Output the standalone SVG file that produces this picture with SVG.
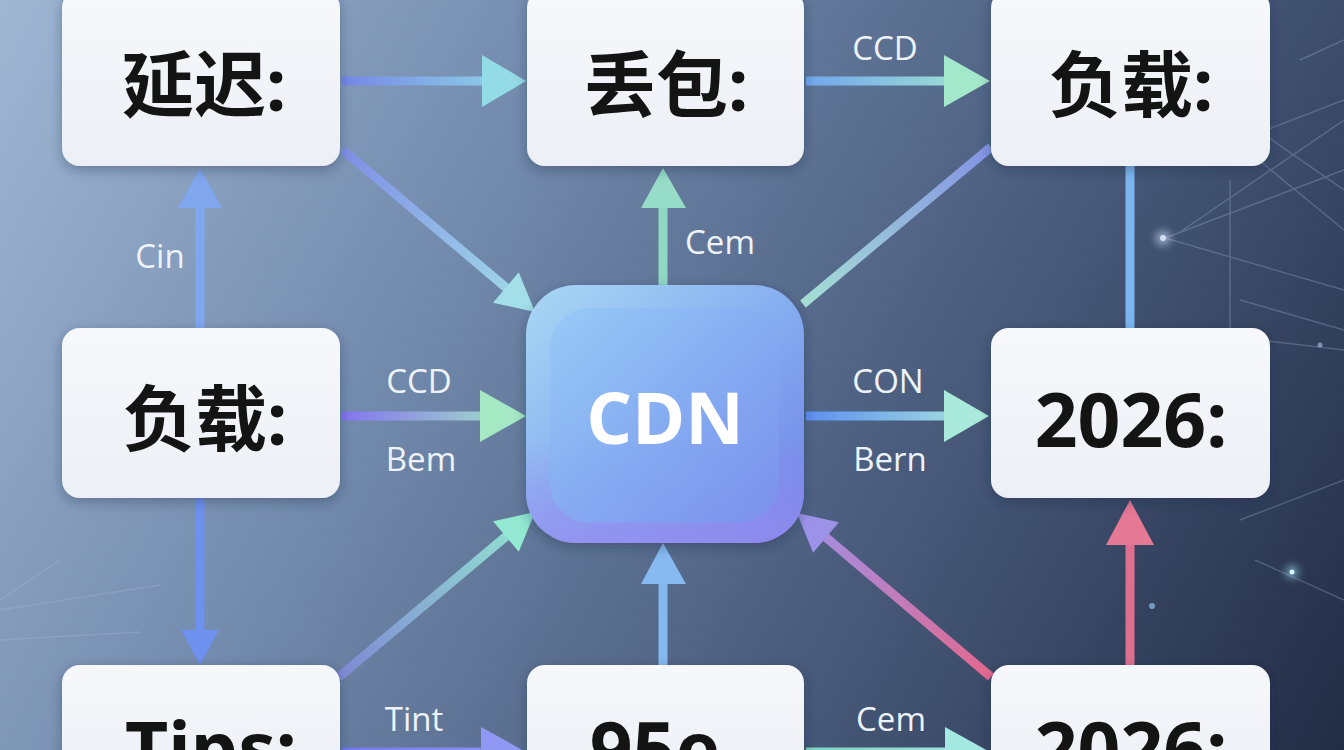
<svg xmlns="http://www.w3.org/2000/svg" width="1344" height="750" viewBox="0 0 1344 750">
<defs>
<linearGradient id="bg" x1="0" y1="0" x2="1344" y2="750" gradientUnits="userSpaceOnUse">
<stop offset="0" stop-color="#9fb6d3"/>
<stop offset="0.35" stop-color="#7088aa"/>
<stop offset="0.65" stop-color="#4b5d7e"/>
<stop offset="1" stop-color="#222c45"/>
</linearGradient>
<linearGradient id="nodeFill" x1="0" y1="0" x2="0" y2="1">
<stop offset="0" stop-color="#f7f8fb"/>
<stop offset="1" stop-color="#eceff5"/>
</linearGradient>
<linearGradient id="cdnOuter" x1="0" y1="0" x2="1" y2="1">
<stop offset="0" stop-color="#a9d8f4"/>
<stop offset="0.5" stop-color="#86aef0"/>
<stop offset="1" stop-color="#6f7fe6"/>
</linearGradient>
<linearGradient id="cdnInner" x1="0" y1="0" x2="1" y2="1">
<stop offset="0" stop-color="#96caf6"/>
<stop offset="0.55" stop-color="#84a9f1"/>
<stop offset="1" stop-color="#7b91ec"/>
</linearGradient>
<linearGradient id="cdnGlowBL" x1="0" y1="0" x2="0" y2="1">
<stop offset="0.6" stop-color="#9a8cf0" stop-opacity="0"/>
<stop offset="1" stop-color="#9a8cf0" stop-opacity="0.7"/>
</linearGradient>
<filter id="shadow" x="-20%" y="-20%" width="140%" height="140%">
<feDropShadow dx="0" dy="4" stdDeviation="6" flood-color="#1a2540" flood-opacity="0.35"/>
</filter>
<filter id="glow" x="-100%" y="-100%" width="300%" height="300%">
<feGaussianBlur stdDeviation="4"/>
</filter>
<linearGradient id="g1" x1="342" y1="81" x2="526" y2="81" gradientUnits="userSpaceOnUse"><stop offset="0" stop-color="#7487e6"/><stop offset="1" stop-color="#93dbe6"/></linearGradient>
<linearGradient id="g2" x1="806" y1="81" x2="990" y2="81" gradientUnits="userSpaceOnUse"><stop offset="0" stop-color="#72a6ee"/><stop offset="1" stop-color="#a4e8cc"/></linearGradient>
<linearGradient id="g3" x1="342" y1="416" x2="526" y2="416" gradientUnits="userSpaceOnUse"><stop offset="0" stop-color="#8474ee"/><stop offset="1" stop-color="#a4e8c4"/></linearGradient>
<linearGradient id="g4" x1="806" y1="416" x2="990" y2="416" gradientUnits="userSpaceOnUse"><stop offset="0" stop-color="#5e8ef0"/><stop offset="1" stop-color="#aaeadc"/></linearGradient>
<linearGradient id="g5" x1="342" y1="752" x2="526" y2="752" gradientUnits="userSpaceOnUse"><stop offset="0" stop-color="#7478ee"/><stop offset="1" stop-color="#9098f4"/></linearGradient>
<linearGradient id="g6" x1="806" y1="752" x2="990" y2="752" gradientUnits="userSpaceOnUse"><stop offset="0" stop-color="#7fd4c0"/><stop offset="1" stop-color="#a4e8e2"/></linearGradient>
<linearGradient id="g13" x1="343" y1="150" x2="535" y2="312" gradientUnits="userSpaceOnUse"><stop offset="0" stop-color="#7f8ee6"/><stop offset="1" stop-color="#a2dfe8"/></linearGradient>
<linearGradient id="g14" x1="991" y1="147" x2="800" y2="306" gradientUnits="userSpaceOnUse"><stop offset="0" stop-color="#8392e4"/><stop offset="1" stop-color="#a6e0d4"/></linearGradient>
<linearGradient id="g15" x1="339" y1="677" x2="535" y2="512" gradientUnits="userSpaceOnUse"><stop offset="0" stop-color="#8088d4"/><stop offset="1" stop-color="#92e8d0"/></linearGradient>
<linearGradient id="g16" x1="991" y1="677" x2="797" y2="513" gradientUnits="userSpaceOnUse"><stop offset="0" stop-color="#e4688e"/><stop offset="1" stop-color="#9c92e8"/></linearGradient>
</defs>
<style>
.node{fill:url(#nodeFill);filter:url(#shadow);}
.nt{font-family:"Noto Sans","Noto Sans CJK SC",sans-serif;font-weight:700;fill:#141414;text-anchor:middle;}
.cjk{font-size:72px;}
.lat{font-size:75px;}
.lbl{font-family:"Open Sans","Noto Sans",sans-serif;font-size:33px;fill:#eef3fa;text-anchor:middle;}
.sh{fill:none;stroke-width:9;stroke-linecap:butt;}
.deco{stroke:#a9bde0;stroke-width:1.5;fill:none;opacity:0.28;}
</style>
<rect x="0" y="0" width="1344" height="750" fill="url(#bg)"/>
<g id="decor">
<path class="deco" d="M1165 238 L1344 170 M1165 238 L1344 290 M1180 232 L1344 120 M1200 90 L1344 190 M1210 120 L1344 230 M1230 180 L1230 330 M1240 300 L1344 330 M1175 330 L1344 350 M1240 140 L1344 100 M1300 60 L1344 40"/>
<path class="deco" d="M0 610 L160 585 M0 640 L140 632 M0 600 L60 560 M1240 520 L1344 480 M1255 560 L1344 600 M1262 340 L1262 400"/>
<circle cx="1163" cy="238" r="7" fill="#cfe0ff" opacity="0.7" filter="url(#glow)"/>
<circle cx="1163" cy="238" r="3" fill="#e6f0ff" opacity="0.8"/>
<circle cx="1292" cy="572" r="6" fill="#9fe8ff" opacity="0.7" filter="url(#glow)"/>
<circle cx="1292" cy="572" r="2.5" fill="#d8f6ff"/>
<circle cx="1152" cy="606" r="3" fill="#9fd8ff" opacity="0.6"/>
<circle cx="1320" cy="345" r="2.5" fill="#cfe0ff" opacity="0.5"/>
</g>
<g id="connectors">
<line class="sh" x1="342" y1="81" x2="488" y2="81" stroke="url(#g1)"/>
<polygon points="526,81 482,55 482,107" fill="#93dbe6"/>
<line class="sh" x1="806" y1="81" x2="950" y2="81" stroke="url(#g2)"/>
<polygon points="990,81 944,55 944,107" fill="#a4e8cc"/>
<line class="sh" x1="342" y1="416" x2="488" y2="416" stroke="url(#g3)"/>
<polygon points="526,416 480,390 480,442" fill="#a4e8c4"/>
<line class="sh" x1="806" y1="416" x2="950" y2="416" stroke="url(#g4)"/>
<polygon points="989,416 944,390 944,442" fill="#aaeadc"/>
<line class="sh" x1="342" y1="752" x2="488" y2="752" stroke="url(#g5)"/>
<polygon points="526,752 481,727 481,777" fill="#9098f4"/>
<line class="sh" x1="806" y1="752" x2="950" y2="752" stroke="url(#g6)"/>
<polygon points="990,752 945,727 945,777" fill="#a4e8e2"/>
<line class="sh" x1="200" y1="328" x2="200" y2="202" stroke="#80a6ee"/>
<polygon points="200,168 178,208 222,208" fill="#80a6ee"/>
<line class="sh" x1="200" y1="498" x2="200" y2="636" stroke="#6e90ee"/>
<polygon points="200,665 181,630 219,630" fill="#6e90ee"/>
<line class="sh" x1="663" y1="285" x2="663" y2="202" stroke="#8fd8c4"/>
<polygon points="663,168 641,208 686,208" fill="#96dcc6"/>
<line class="sh" x1="663" y1="665" x2="663" y2="578" stroke="#84b8ee"/>
<polygon points="663,543 641,584 686,584" fill="#86baf0"/>
<line class="sh" x1="1130" y1="665" x2="1130" y2="540" stroke="#de6f8f"/>
<polygon points="1130,500 1106,545 1154,545" fill="#e47895"/>
<line class="sh" x1="1130" y1="166" x2="1130" y2="328" stroke="#7cb6ee" stroke-width="10"/>
<line class="sh" x1="343" y1="150" x2="510" y2="291" stroke="url(#g13)" stroke-width="8"/>
<polygon points="535,312 493,302.8 518.8,272.2" fill="#a2dfe8"/>
<line class="sh" x1="991" y1="147" x2="803" y2="304" stroke="url(#g14)" stroke-width="8"/>
<line class="sh" x1="339" y1="677" x2="510" y2="533" stroke="url(#g15)" stroke-width="8"/>
<polygon points="535,512 518.8,551.8 493,521.2" fill="#92e8d0"/>
<line class="sh" x1="991" y1="677" x2="822" y2="534" stroke="url(#g16)" stroke-width="8"/>
<polygon points="797,513 838.9,522.2 813.1,552.8" fill="#9c92e8"/>
<text class="lbl" x="885" y="60">CCD</text>
<text class="lbl" x="720" y="254">Cem</text>
<text class="lbl" x="160" y="268">Cin</text>
<text class="lbl" x="419" y="393">CCD</text>
<text class="lbl" x="421" y="471">Bem</text>
<text class="lbl" x="888" y="393">CON</text>
<text class="lbl" x="890" y="471">Bern</text>
<text class="lbl" x="414" y="731">Tint</text>
<text class="lbl" x="891" y="731">Cem</text>
</g>
<g id="node-delay">
<rect class="node" x="62" y="-10" width="278" height="176" rx="18"/>
<text class="nt cjk" x="204" y="111">延迟:</text>
</g>
<g id="node-loss">
<rect class="node" x="527" y="-10" width="277" height="176" rx="18"/>
<text class="nt cjk" x="666" y="111">丢包:</text>
</g>
<g id="node-load-top">
<rect class="node" x="991" y="-10" width="279" height="176" rx="18"/>
<text class="nt cjk" x="1131" y="111">负载:</text>
</g>
<g id="node-load-mid">
<rect class="node" x="62" y="328" width="278" height="170" rx="18"/>
<text class="nt cjk" x="205" y="445">负载:</text>
</g>
<g id="node-cdn">
<rect x="526" y="285" width="278" height="258" rx="50" fill="url(#cdnOuter)" filter="url(#shadow)"/>
<rect x="526" y="285" width="278" height="258" rx="50" fill="url(#cdnGlowBL)"/>
<rect x="550" y="308" width="229" height="215" rx="40" fill="url(#cdnInner)" opacity="0.9"/>
<text x="665" y="444" font-family="'Open Sans','Noto Sans',sans-serif" font-size="72" font-weight="700" fill="#ffffff" text-anchor="middle">CDN</text>
</g>
<g id="node-2026-mid">
<rect class="node" x="991" y="328" width="279" height="170" rx="18"/>
<text class="nt lat" x="1131" y="447">2026:</text>
</g>
<g id="node-tips">
<rect class="node" x="62" y="665" width="278" height="120" rx="18"/>
<text class="nt lat" x="211" y="776">Tips:</text>
</g>
<g id="node-95e">
<rect class="node" x="527" y="665" width="277" height="120" rx="18"/>
<text class="nt lat" x="655" y="776">95e</text>
</g>
<g id="node-2026-bot">
<rect class="node" x="991" y="665" width="279" height="120" rx="18"/>
<text class="nt lat" x="1131" y="776">2026:</text>
</g>
</svg>
